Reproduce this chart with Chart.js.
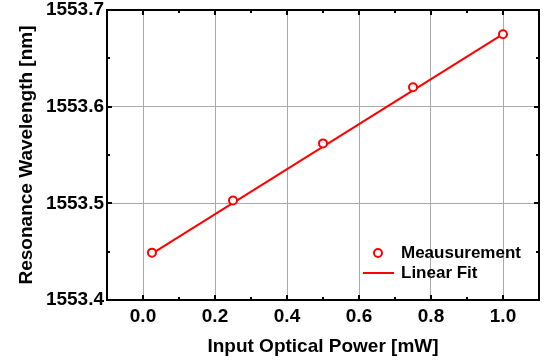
<!DOCTYPE html>
<html>
<head>
<meta charset="utf-8">
<script src="https://cdn.jsdelivr.net/npm/chart.js@4/dist/chart.umd.min.js"></script>
<style>
  html, body { margin: 0; padding: 0; background: #fff; }
  #wrap { width: 551px; height: 362px; }
</style>
</head>
<body>
<div id="wrap"><canvas id="myChart" width="551" height="362"></canvas></div>
<script>
// data
var powerMw = [0.025, 0.25, 0.5, 0.75, 1.0];
var wavelengthNm = [1553.449, 1553.503, 1553.562, 1553.620, 1553.675];
// linear fit end points
var fitX = [0.025, 1.0];
var fitY = [1553.448, 1553.675];

// ticks
var xTicks = [0.0, 0.2, 0.4, 0.6, 0.8, 1.0];
var xMinor = [0.1, 0.3, 0.5, 0.7, 0.9];
var yTicks = [1553.4, 1553.5, 1553.6, 1553.7];
var yMinor = [1553.45, 1553.55, 1553.65];

var FONT = "'Liberation Sans', Arial, sans-serif";
var RED = '#ff0000';

// frame + inward ticks on all 4 sides, and the legend inside the plot
var framePlugin = {
  id: 'frame',
  afterDraw(chart) {
    var ctx = chart.ctx, a = chart.chartArea;
    var x = chart.scales.x, y = chart.scales.y;
    ctx.save();
    ctx.strokeStyle = '#000';
    ctx.lineWidth = 2;
    ctx.beginPath();
    function xt(v, len) {
      var px = Math.round(x.getPixelForValue(v));
      ctx.moveTo(px, a.bottom); ctx.lineTo(px, a.bottom - len);
      ctx.moveTo(px, a.top); ctx.lineTo(px, a.top + len);
    }
    function yt(v, len) {
      var py = Math.round(y.getPixelForValue(v));
      ctx.moveTo(a.left, py); ctx.lineTo(a.left + len, py);
      ctx.moveTo(a.right, py); ctx.lineTo(a.right - len, py);
    }
    xTicks.forEach(v => xt(v, 5));
    xMinor.forEach(v => xt(v, 3));
    yTicks.forEach(v => yt(v, 5));
    yMinor.forEach(v => yt(v, 3));
    ctx.stroke();
    ctx.strokeRect(a.left, a.top, a.right - a.left, a.bottom - a.top);

    // legend
    var lx = a.right - 161, ly = a.bottom - 47;
    ctx.strokeStyle = RED;
    ctx.fillStyle = '#fff';
    ctx.lineWidth = 2;
    ctx.beginPath();
    ctx.arc(lx, ly, 4, 0, Math.PI * 2);
    ctx.fill();
    ctx.stroke();
    ctx.beginPath();
    ctx.moveTo(lx - 15, ly + 20);
    ctx.lineTo(lx + 16, ly + 20);
    ctx.stroke();
    ctx.fillStyle = '#000';
    ctx.font = 'bold 17px ' + FONT;
    ctx.textBaseline = 'middle';
    ctx.textAlign = 'left';
    ctx.fillText(chart.data.datasets[0].label, lx + 23, ly);
    ctx.fillText(chart.data.datasets[1].label, lx + 23, ly + 20);
    ctx.restore();
  }
};

var ctx = document.getElementById('myChart').getContext('2d');
var myChart = new Chart(ctx, {
  type: 'scatter',
  data: {
    datasets: [{
      label: 'Meausurement',
      data: powerMw.map((p, i) => ({ x: p, y: wavelengthNm[i] })),
      showLine: false,
      pointStyle: 'circle',
      pointRadius: 4,
      pointBorderWidth: 2,
      borderColor: RED,
      backgroundColor: '#fff',
      order: 0
    }, {
      label: 'Linear Fit',
      data: fitX.map((p, i) => ({ x: p, y: fitY[i] })),
      showLine: true,
      pointRadius: 0,
      borderColor: RED,
      borderWidth: 2,
      order: 1
    }]
  },
  options: {
    responsive: false,
    animation: false,
    layout: { padding: { top: 10, right: 12, left: 0, bottom: 0 } },
    plugins: { legend: { display: false }, tooltip: { enabled: false } },
    scales: {
      x: {
        type: 'linear',
        min: -0.1,
        max: 1.1,
        afterBuildTicks: s => { s.ticks = xTicks.map(v => ({ value: v })); },
        afterFit: s => { s.height = 62; s.paddingLeft = 0; s.paddingRight = 0; },
        ticks: {
          callback: v => v.toFixed(1),
          color: '#000',
          padding: 5,
          maxRotation: 0,
          font: { family: FONT, size: 19, weight: 'bold' }
        },
        grid: { color: '#aaaaaa', lineWidth: 1, drawTicks: false },
        border: { display: false },
        title: {
          display: true,
          text: 'Input Optical Power [mW]',
          color: '#000',
          padding: { top: 0, bottom: 4 },
          font: { family: FONT, size: 19, weight: 'bold' }
        }
      },
      y: {
        type: 'linear',
        min: 1553.4,
        max: 1553.7,
        afterBuildTicks: s => { s.ticks = yTicks.map(v => ({ value: v })); },
        afterFit: s => { s.width = 107; s.paddingTop = 0; s.paddingBottom = 0; },
        ticks: {
          callback: v => v.toFixed(1),
          color: '#000',
          padding: 3,
          font: { family: FONT, size: 19, weight: 'bold' }
        },
        grid: { color: '#aaaaaa', lineWidth: 1, drawTicks: false },
        border: { display: false },
        title: {
          display: true,
          text: 'Resonance Wavelength [nm]',
          color: '#000',
          padding: { top: 15, bottom: 0 },
          font: { family: FONT, size: 19, weight: 'bold' }
        }
      }
    }
  },
  plugins: [framePlugin]
});
</script>
</body>
</html>
